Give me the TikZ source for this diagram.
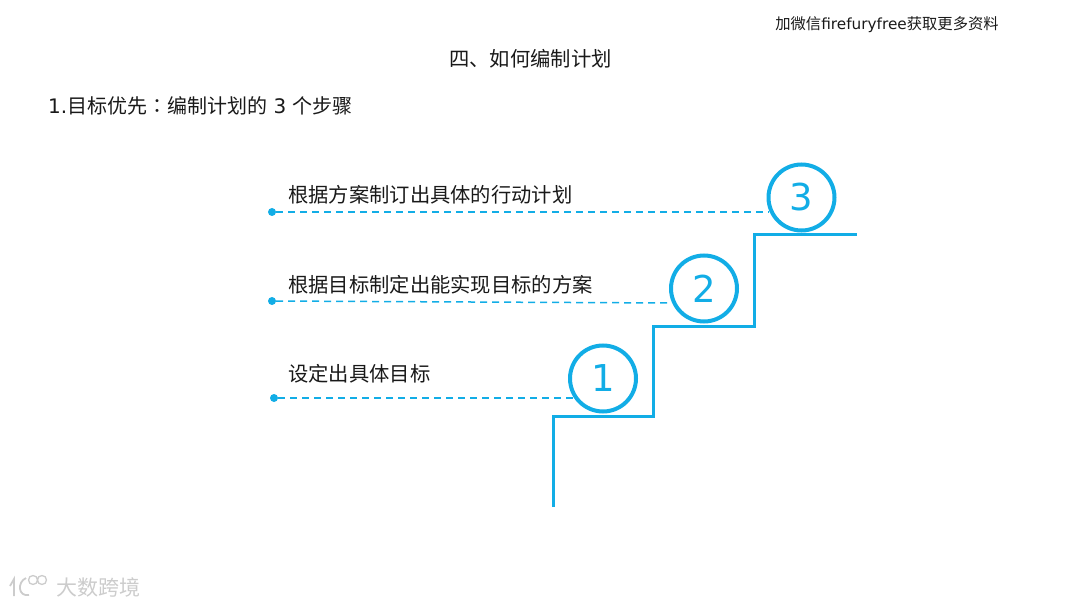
\documentclass[tikz,border=0pt]{standalone}
\usepackage{fontspec,xcolor}
\usetikzlibrary{positioning}
\setmainfont{DejaVu Sans}
\newfontfamily\cjk{Noto Sans CJK SC}
\newfontfamily\cjkcolon{Noto Sans CJK TC}
\definecolor{stepblue}{HTML}{12ADE6}
\tikzset{
  steptxt/.style={anchor=west,inner sep=0pt,font=\fontsize{20.3}{20}\selectfont\cjk,text=black!90},
  stepnum/.style={circle,draw=stepblue,line width=4pt,minimum size=66pt,inner sep=0pt,text=stepblue,font=\fontsize{37}{37}\selectfont},
  stepdot/.style={circle,fill=stepblue,minimum size=8pt,inner sep=0pt},
  leader/.style={stepblue,line width=1.5pt,dash pattern=on 7pt off 5pt},
  markline/.style={black!20,line width=1.8pt}
}
\begin{document}
\begin{tikzpicture}[x=1pt,y=-1pt]
\useasboundingbox (0,0) rectangle (1080,607);
% heading lines
\node[anchor=center,inner sep=0pt,text=black!90,font=\fontsize{15.3}{16}\selectfont] (wechat) at (887,25){{\cjk 加微信}firefuryfree{\cjk 获取更多资料}};
\node[steptxt,anchor=center] (title) at (530.5,58.5){四、如何编制计划};
\node[anchor=west,inner sep=0pt,text=black!90,font=\fontsize{20}{20}\selectfont] (subtitle) at (48,106){1.{\cjk 目标优先}{\cjkcolon ：}{\cjk 编制计划的} 3 {\cjk 个步骤}};
% stairs
\draw[stepblue,line width=3pt] (553,507)--(553,416)--(653.5,416)--(653.5,326)--(754.5,326)--(754.5,235)--(857,235);
% numbered circles
\node[stepnum] (numC) at (801.5,197.5){3};
\node[stepnum] (numB) at (704,288.5){2};
\node[stepnum] (numA) at (603,378.5){1};
% labels
\node[steptxt] (txtC) at (288,195){根据方案制订出具体的行动计划};
\node[steptxt] (txtB) at (288,285){根据目标制定出能实现目标的方案};
\node[steptxt] (txtA) at (288,374){设定出具体目标};
% leaders
\node[stepdot] (dotC) at (272,212){}; \coordinate (endC) at (769,212);
\node[stepdot] (dotB) at (272,301){}; \coordinate (endB) at (670,303);
\node[stepdot] (dotA) at (274,398){}; \coordinate (endA) at (574,398);
\draw[leader] (dotC)--(endC);
\draw[leader] (dotB)--(endB);
\draw[leader] (dotA)--(endA);
% watermark
\draw[markline] (10,586)--(14,579)--(14,596);
\draw[markline] (29,595) .. controls (18,597) and (17,582) .. (26,578);
\draw[markline,line width=1.3pt] (33,580) circle (4.5) (42,580) circle (4.5);
\node[anchor=west,inner sep=0pt,text=black!20,font=\fontsize{21}{21}\selectfont\cjk] (brand) at (56,587){大数跨境};
\end{tikzpicture}
\end{document}
